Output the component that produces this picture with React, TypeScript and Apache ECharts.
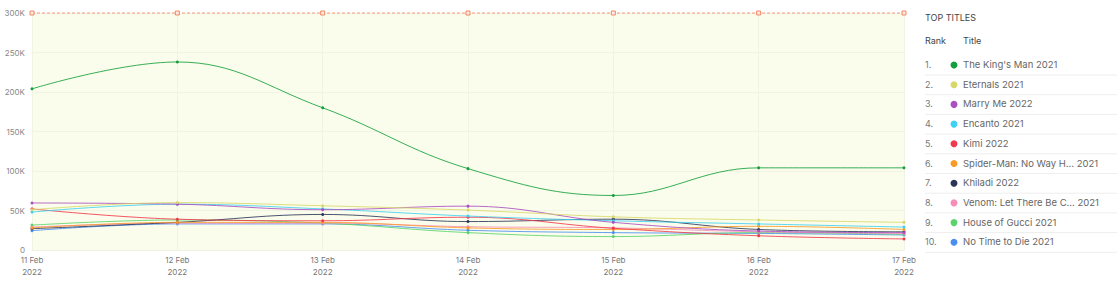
import React, { useEffect, useRef } from "react";
import * as echarts from "echarts";

const dates = ["11 Feb\n2022", "12 Feb\n2022", "13 Feb\n2022", "14 Feb\n2022", "15 Feb\n2022", "16 Feb\n2022", "17 Feb\n2022"];
const yTicks = [0, 50000, 100000, 150000, 200000, 250000, 300000];

const titles = [
  "The King's Man 2021",
  "Eternals 2021",
  "Marry Me 2022",
  "Encanto 2021",
  "Kimi 2022",
  "Spider-Man: No Way H... 2021",
  "Khiladi 2022",
  "Venom: Let There Be C... 2021",
  "House of Gucci 2021",
  "No Time to Die 2021",
];
const colors = ["#13a03c", "#d8d86a", "#a94fc1", "#3fd0f2", "#f2384c", "#f99a2a", "#2b3558", "#f58fba", "#5ad46a", "#4a8ef0"];

const kingsMan = [204000, 238000, 180000, 103000, 69000, 104000, 104000];
const eternals = [51000, 60000, 56000, 50500, 42000, 38000, 35000];
const marryMe = [59500, 58000, 51000, 55500, 35000, 24000, 22000];
const encanto = [48000, 58000, 52000, 43000, 37000, 33000, 29000];
const kimi = [52000, 39000, 37000, 41500, 27500, 18000, 14000];
const spiderMan = [28000, 35000, 35000, 28000, 26000, 30000, 26000];
const khiladi = [27000, 35000, 45000, 36000, 39000, 26000, 23000];
const venom = [29000, 34000, 34000, 29500, 28000, 23000, 21000];
const houseOfGucci = [31500, 38000, 34000, 22000, 17000, 22000, 20000];
const noTimeToDie = [24500, 33000, 33000, 25000, 22000, 21000, 19000];
const maxLine = [300000, 300000, 300000, 300000, 300000, 300000, 300000];

const seriesValues = [kingsMan, eternals, marryMe, encanto, kimi, spiderMan, khiladi, venom, houseOfGucci, noTimeToDie];

function fmt(v: number) {
  return v === 0 ? "0" : v / 1000 + "K";
}

export default function App() {
  const ref = useRef<HTMLDivElement>(null);
  useEffect(() => {
    if (!ref.current) return;
    const chart = echarts.init(ref.current, undefined, { renderer: "svg" });
    const font = "Inter, 'Noto Sans', sans-serif";
    const series: any[] = seriesValues.map((vals, i) => ({
      name: titles[i],
      type: "line",
      data: vals,
      smooth: 0.4,
      symbol: "circle",
      symbolSize: 3,
      lineStyle: { width: 1, color: colors[i], opacity: 0.85 },
      itemStyle: { color: colors[i] },
      z: 20 - i,
    }));
    series.push({
      name: "Max",
      type: "line",
      data: maxLine,
      symbol: "rect",
      symbolSize: 4,
      lineStyle: { width: 1.5, color: "#f7ad95", type: [3, 2] },
      itemStyle: { color: "#fde9e0", borderColor: "#f08a68", borderWidth: 1 },
      z: 30,
    });

    const graphics: any[] = [];
    const lx = 925;
    graphics.push({ type: "text", left: lx, top: 13, style: { text: "TOP TITLES", fill: "#444", font: `9px ${font}` } });
    graphics.push({ type: "text", left: lx, top: 36, style: { text: "Rank", fill: "#444", font: `9px ${font}` } });
    graphics.push({ type: "text", left: 963, top: 36, style: { text: "Title", fill: "#444", font: `9px ${font}` } });
    const rowH = 19.7;
    titles.forEach((t, i) => {
      const cy = 65 + i * rowH;
      graphics.push({ type: "text", left: lx, top: cy - 5, style: { text: i + 1 + ".", fill: "#777", font: `9px ${font}` } });
      graphics.push({ type: "circle", shape: { cx: 954, cy, r: 3.5 }, style: { fill: colors[i] } });
      graphics.push({ type: "text", left: 963, top: cy - 5.5, style: { text: t, fill: "#666", font: `9.5px ${font}` } });
      graphics.push({
        type: "line",
        shape: { x1: 925, y1: cy + 10, x2: 1117, y2: cy + 10 },
        style: { stroke: "#eeeeee", lineWidth: 1 },
      });
    });

    chart.setOption({
      animation: false,
      backgroundColor: "#ffffff",
      grid: { left: 32, right: 213, top: 13, bottom: 32, show: true, backgroundColor: "#fbfdec", borderWidth: 0 },
      xAxis: {
        type: "category",
        data: dates,
        boundaryGap: false,
        axisLine: { show: true, lineStyle: { color: "#f0f2e2" } },
        axisTick: { show: false },
        splitLine: { show: true, lineStyle: { color: "#f1f4e3", width: 1 } },
        axisLabel: { color: "#777", fontSize: 8, fontFamily: font, lineHeight: 12, margin: 4 },
      },
      yAxis: {
        type: "value",
        min: 0,
        max: 300000,
        interval: 50000,
        axisLine: { show: false },
        axisTick: { show: false },
        splitLine: { show: true, lineStyle: { color: "#f1f4e3", width: 1 } },
        axisLabel: { color: "#888", fontSize: 8, fontFamily: font, margin: 7, formatter: (v: number) => (yTicks.includes(v) ? fmt(v) : "") },
      },
      series,
      graphic: graphics,
    });
    return () => chart.dispose();
  }, []);
  return <div ref={ref} style={{ position: "fixed", left: 0, top: 0, width: 1117, height: 282 }} />;
}
